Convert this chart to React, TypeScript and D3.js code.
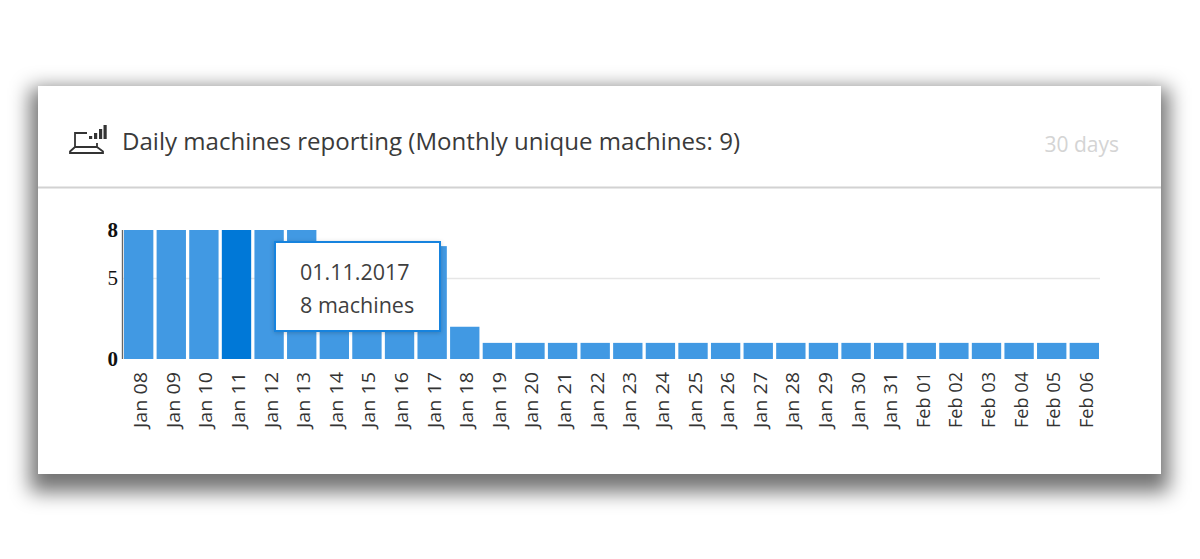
import * as d3 from "d3";

/* ------------------------------------------------------------------ */
/*  Data                                                              */
/* ------------------------------------------------------------------ */

const days = [
  "Jan 08", "Jan 09", "Jan 10", "Jan 11", "Jan 12", "Jan 13", "Jan 14", "Jan 15", "Jan 16", "Jan 17",
  "Jan 18", "Jan 19", "Jan 20", "Jan 21", "Jan 22", "Jan 23", "Jan 24", "Jan 25", "Jan 26", "Jan 27",
  "Jan 28", "Jan 29", "Jan 30", "Jan 31", "Feb 01", "Feb 02", "Feb 03", "Feb 04", "Feb 05", "Feb 06",
];
const machines = [8, 8, 8, 8, 8, 8, 7, 7, 7, 7, 2, 1, 1, 1, 1, 1, 1, 1, 1, 1, 1, 1, 1, 1, 1, 1, 1, 1, 1, 1];
const yTicks = [0, 5, 8];
const activeDay = "Jan 11";

const titleText = "Daily machines reporting (Monthly unique machines: 9)";
const rangeText = "30 days";
const tooltipLines = ["01.11.2017", "8 machines"];

const FONT = "'Open Sans', 'Noto Sans', sans-serif";

/* ------------------------------------------------------------------ */
/*  Scales                                                            */
/* ------------------------------------------------------------------ */

const x = d3.scaleBand<string>().domain(days).range([124, 1099]).paddingInner(0.1).paddingOuter(0);
const y = d3.scaleLinear().domain([0, 8]).range([359, 230]);

// signal bars of the header icon: [left, top]
const signalBars = [
  [89, 136],
  [94, 133],
  [99, 129],
  [103.5, 125],
];

export default function App() {
  return (
    <svg
      width={1200}
      height={559}
      viewBox="0 0 1200 559"
      style={{ position: "fixed", left: 0, top: 0, background: "#fff" }}
    >
      <defs>
        <filter id="card-shadow" x="-10%" y="-20%" width="120%" height="140%">
          <feGaussianBlur stdDeviation="10" />
        </filter>
        <filter id="tip-shadow" x="-20%" y="-20%" width="140%" height="140%">
          <feDropShadow dx="0" dy="1" stdDeviation="2" floodColor="#000" floodOpacity="0.2" />
        </filter>
      </defs>

      {/* card */}
      <rect x={30} y={88} width={1139} height={404} fill="#000" fillOpacity={0.55} filter="url(#card-shadow)" />
      <rect x={38} y={86} width={1123} height={388} fill="#fff" />
      <line x1={38} x2={1161} y1={187.5} y2={187.5} stroke="#d2d2d2" strokeWidth={2} />

      {/* header icon */}
      <g fill="none" stroke="#333" strokeWidth={1.8}>
        <path d="M75 148V133H87" />
        <path d="M75 147H97V143" />
        <path d="M75 147L70 151.5V153H103V151.5L97 147" />
      </g>
      <g fill="#333">
        {signalBars.map(([bx, by]) => (
          <rect key={bx} x={bx} y={by} width={3.2} height={139 - by} />
        ))}
      </g>

      <text x={122} y={150} fontFamily={FONT} fontSize={23} fill="#3a3a3a" textLength={618} lengthAdjust="spacingAndGlyphs">
        {titleText}
      </text>
      <text x={1119} y={152} textAnchor="end" fontFamily={FONT} fontSize={21} fill="#d4d4d4">
        {rangeText}
      </text>

      {/* gridline */}
      <line x1={122} x2={1100} y1={y(5)} y2={y(5)} stroke="#e6e6e6" strokeWidth={1.5} />

      {/* bars */}
      {days.map((d, i) => (
        <rect
          key={d}
          x={x(d)}
          y={y(machines[i])}
          width={x.bandwidth()}
          height={y(0) - y(machines[i])}
          fill={d === activeDay ? "#0078d7" : "#4199e3"}
        />
      ))}

      {/* y axis */}
      <line x1={122.5} x2={122.5} y1={y(8)} y2={y(0)} stroke="#666" strokeWidth={1.4} />
      {yTicks.map((t) => (
        <text
          key={t}
          x={118}
          y={y(t) + 6.5}
          textAnchor="end"
          fontFamily="'Liberation Serif', serif"
          fontSize={21}
          fontWeight={t === 5 ? 400 : 700}
          fill="#111"
        >
          {t}
        </text>
      ))}

      {/* x axis labels */}
      {days.map((d) => {
        const cx = (x(d) as number) + x.bandwidth() / 2;
        return (
          <text
            key={d}
            transform={`translate(${cx + 8.5},372) rotate(-90)`}
            textAnchor="end"
            fontFamily={FONT}
            fontSize={18.5}
            fill="#333"
            textLength={56}
            lengthAdjust="spacingAndGlyphs"
          >
            {d}
          </text>
        );
      })}

      {/* tooltip */}
      <rect
        x={275}
        y={242}
        width={165}
        height={89}
        fill="#fff"
        stroke="#1583de"
        strokeWidth={2}
        filter="url(#tip-shadow)"
      />
      {tooltipLines.map((line, i) => (
        <text key={line} x={300} y={280 + i * 33} fontFamily={FONT} fontSize={21.5} fill="#3f3f3f">
          {line}
        </text>
      ))}
    </svg>
  );
}
